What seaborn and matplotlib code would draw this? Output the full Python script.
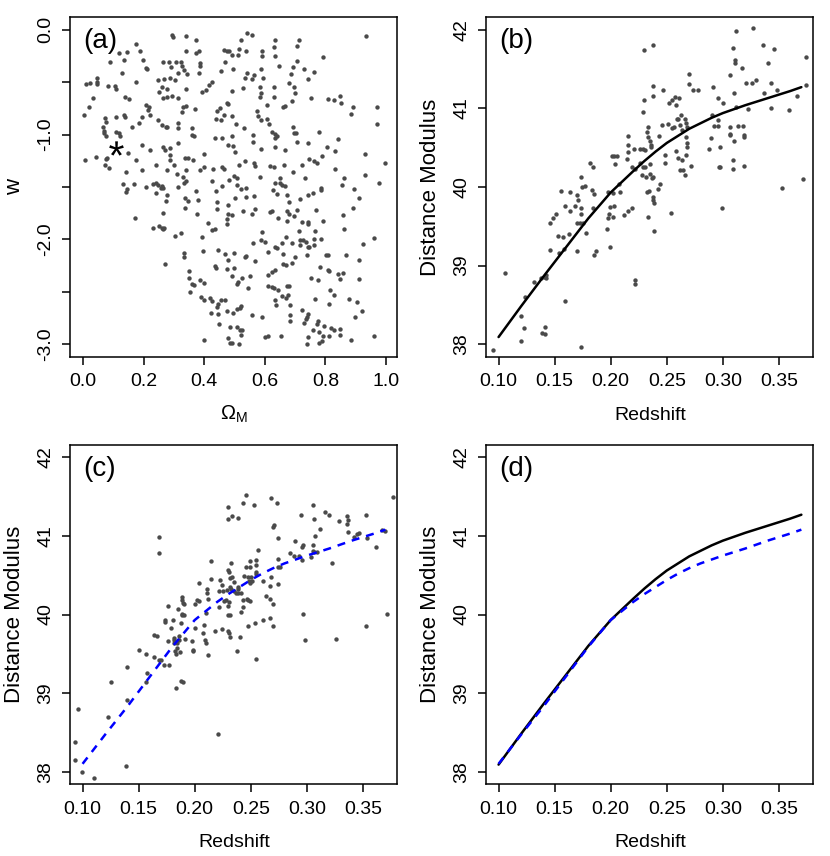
import matplotlib
matplotlib.use("Agg")
import matplotlib.pyplot as plt
import seaborn as sns

sns.set_style("ticks")
plt.rcParams["font.family"] = ["Liberation Sans", "DejaVu Sans"]
plt.rcParams["axes.unicode_minus"] = False
plt.rcParams["mathtext.fontset"] = "custom"
plt.rcParams["mathtext.rm"] = "Liberation Sans"
plt.rcParams["mathtext.it"] = "Liberation Sans:italic"
plt.rcParams["mathtext.bf"] = "Liberation Sans:bold"
for key in ["text.color", "axes.labelcolor", "xtick.color", "ytick.color",
            "xtick.labelcolor", "ytick.labelcolor", "axes.edgecolor"]:
    plt.rcParams[key] = "black"

# ---- panel (a): sampled (Omega_M, w) points ----
omega_m = [
    0.292, 0.295, 0.339, 0.372, 0.176, 0.187, 0.119, 0.146, 0.088, 0.135,
    0.196, 0.207, 0.211, 0.264, 0.283, 0.290, 0.306, 0.322, 0.325, 0.334,
    0.314, 0.344, 0.374, 0.383, 0.385, 0.385, 0.381, 0.341, 0.465, 0.474,
    0.455, 0.127, 0.009, 0.022, 0.047, 0.047, 0.047, 0.083, 0.105, 0.108,
    0.138, 0.151, 0.176, 0.248, 0.268, 0.286, 0.303, 0.259, 0.278, 0.252,
    0.262, 0.278, 0.292, 0.314, 0.339, 0.394, 0.405, 0.416, 0.427, 0.032,
    0.019, 0.002, 0.207, 0.218, 0.215, 0.193, 0.185, 0.222, 0.330, 0.339,
    0.326, 0.369, 0.443, 0.452, 0.465, 0.072, 0.108, 0.135, 0.138, 0.075,
    0.160, 0.261, 0.248, 0.275, 0.314, 0.314, 0.438, 0.455, 0.064, 0.069,
    0.069, 0.074, 0.110, 0.119, 0.123, 0.278, 0.361, 0.361, 0.366, 0.435,
    0.460, 0.262, 0.271, 0.286, 0.193, 0.220, 0.312, 0.149, 0.176, 0.006,
    0.042, 0.077, 0.080, 0.072, 0.085, 0.141, 0.193, 0.286, 0.286, 0.300,
    0.278, 0.242, 0.336, 0.345, 0.363, 0.399, 0.385, 0.400, 0.430, 0.460,
    0.465, 0.339, 0.311, 0.328,
    0.540, 0.556, 0.520, 0.633, 0.713, 0.933, 0.481, 0.490, 0.514, 0.512,
    0.537, 0.589, 0.591, 0.631, 0.633, 0.705, 0.468, 0.495, 0.587, 0.540,
    0.534, 0.556, 0.565, 0.595, 0.648, 0.705, 0.694, 0.729, 0.762, 0.793,
    0.686, 0.680, 0.697, 0.741, 0.490, 0.529, 0.584, 0.587, 0.584, 0.631,
    0.631, 0.608, 0.659, 0.666, 0.701, 0.690, 0.752, 0.807, 0.829, 0.848,
    0.850, 0.892, 0.884, 0.969, 0.970, 0.474, 0.479, 0.493, 0.504, 0.531,
    0.573, 0.576, 0.587, 0.606, 0.615, 0.692, 0.697, 0.703, 0.635, 0.639,
    0.633, 0.624, 0.560, 0.562, 0.490, 0.477, 0.496, 0.501, 0.587, 0.633,
    0.666, 0.705, 0.741, 0.780, 0.843, 0.804, 0.831, 0.788, 0.931, 0.997,
    0.514, 0.534, 0.565, 0.568, 0.617, 0.631, 0.664, 0.692, 0.723, 0.747,
    0.763, 0.771, 0.831, 0.862, 0.931, 0.481, 0.499, 0.507, 0.585, 0.650,
    0.732,
    0.130, 0.141, 0.146, 0.167, 0.207, 0.229, 0.240, 0.246, 0.256, 0.259,
    0.262, 0.240, 0.278, 0.275, 0.314, 0.333, 0.341, 0.336, 0.345, 0.336,
    0.374, 0.380, 0.377, 0.264, 0.170, 0.229, 0.249, 0.260, 0.264, 0.267,
    0.303, 0.322, 0.333, 0.334, 0.270, 0.350, 0.350, 0.358, 0.367, 0.352,
    0.385, 0.399, 0.391, 0.396, 0.411, 0.427, 0.435, 0.441, 0.443, 0.437,
    0.457, 0.427, 0.446, 0.435, 0.438, 0.390, 0.399, 0.419, 0.424, 0.441,
    0.445, 0.454, 0.421, 0.446, 0.448, 0.399,
    0.509, 0.520, 0.537, 0.503, 0.537, 0.565, 0.477, 0.479, 0.490, 0.474,
    0.474, 0.529, 0.556, 0.569, 0.617, 0.622, 0.628, 0.633, 0.650, 0.655,
    0.666, 0.641, 0.672, 0.680, 0.716, 0.743, 0.760, 0.785, 0.787, 0.854,
    0.895, 0.912, 0.890, 0.857, 0.860, 0.977, 0.642, 0.672, 0.681, 0.672,
    0.697, 0.705, 0.724, 0.741, 0.743, 0.768, 0.793, 0.589, 0.587, 0.602,
    0.562, 0.612, 0.635, 0.641, 0.657, 0.669, 0.688, 0.661, 0.713, 0.716,
    0.725, 0.735, 0.716, 0.741, 0.745, 0.763, 0.763, 0.765, 0.785, 0.738,
    0.801, 0.807, 0.700, 0.688, 0.661, 0.670, 0.635, 0.622, 0.609, 0.868,
    0.912, 0.960, 0.925, 0.468, 0.477, 0.498, 0.534, 0.537, 0.569, 0.474,
    0.499, 0.490, 0.523, 0.551, 0.512, 0.507, 0.545, 0.609, 0.622, 0.631,
    0.672, 0.681, 0.645, 0.655, 0.670, 0.675, 0.633, 0.637, 0.683, 0.752,
    0.777, 0.782, 0.807, 0.812, 0.840, 0.848, 0.859, 0.912, 0.815, 0.829,
    0.812, 0.765, 0.879, 0.903, 0.922, 0.898, 0.468, 0.474, 0.496, 0.507,
    0.518, 0.521, 0.556, 0.589, 0.683, 0.683, 0.724, 0.741, 0.730, 0.735,
    0.738, 0.760, 0.771, 0.774, 0.780, 0.796, 0.818, 0.829, 0.848, 0.848,
    0.813, 0.793, 0.788, 0.780, 0.738, 0.743, 0.652, 0.609, 0.600, 0.884,
    0.961, 0.485, 0.509, 0.518, 0.526, 0.521, 0.477, 0.485, 0.493, 0.514,
]
w_vals = [
    -0.048, -0.070, -0.064, -0.096, -0.137, -0.198, -0.217, -0.214, -0.303, -0.287,
    -0.293, -0.366, -0.376, -0.312, -0.312, -0.351, -0.303, -0.309, -0.344, -0.382,
    -0.414, -0.421, -0.223, -0.198, -0.319, -0.344, -0.408, -0.207, -0.191, -0.207,
    -0.389, -0.408, -0.519, -0.510, -0.462, -0.494, -0.516, -0.535, -0.535, -0.567,
    -0.644, -0.663, -0.500, -0.478, -0.472, -0.462, -0.478, -0.542, -0.567, -0.596,
    -0.653, -0.637, -0.631, -0.653, -0.561, -0.590, -0.574, -0.526, -0.503, -0.653,
    -0.739, -0.813, -0.717, -0.733, -0.765, -0.829, -0.886, -0.813, -0.733, -0.727,
    -0.781, -0.758, -0.771, -0.749, -0.813, -0.844, -0.835, -0.813, -0.835, -0.876,
    -0.924, -0.908, -0.860, -0.924, -0.892, -0.940, -0.854, -0.860, -0.931, -0.962,
    -0.988, -1.010, -0.972, -0.988, -1.013, -0.931, -0.940, -1.004, -1.013, -1.036,
    -1.029, -1.115, -1.147, -1.125, -1.099, -1.147, -1.083, -1.179, -1.243, -1.243,
    -1.211, -1.236, -1.220, -1.291, -1.322, -1.354, -1.338, -1.195, -1.243, -1.291,
    -1.338, -1.291, -1.227, -1.221, -1.243, -1.185, -1.338, -1.307, -1.332, -1.307,
    -1.332, -1.338, -1.377, -1.402,
    -0.032, -0.048, -0.102, -0.102, -0.096, -0.057, -0.207, -0.245, -0.185, -0.245,
    -0.198, -0.207, -0.255, -0.169, -0.255, -0.159, -0.303, -0.376, -0.376, -0.414,
    -0.462, -0.472, -0.430, -0.462, -0.341, -0.296, -0.351, -0.376, -0.405, -0.261,
    -0.421, -0.504, -0.542, -0.468, -0.580, -0.551, -0.548, -0.599, -0.644, -0.542,
    -0.644, -0.717, -0.733, -0.723, -0.605, -0.676, -0.647, -0.663, -0.669, -0.631,
    -0.695, -0.739, -0.803, -0.733, -0.899, -0.695, -0.707, -0.822, -0.899, -0.940,
    -0.771, -0.822, -0.860, -0.854, -0.899, -0.924, -0.982, -0.982, -0.997, -1.010,
    -1.036, -0.978, -1.004, -1.074, -1.013, -1.099, -1.109, -1.163, -1.141, -1.115,
    -1.147, -1.071, -1.083, -0.972, -1.045, -1.122, -1.157, -1.201, -1.185, -1.268,
    -1.291, -1.249, -1.268, -1.300, -1.300, -1.313, -1.291, -1.354, -1.291, -1.233,
    -1.249, -1.275, -1.329, -1.418, -1.386, -1.434, -1.393, -1.418, -1.402, -1.418,
    -1.418,
    -1.475, -1.546, -1.523, -1.472, -1.504, -1.472, -1.460, -1.482, -1.514, -1.488,
    -1.514, -1.562, -1.574, -1.632, -1.498, -1.460, -1.444, -1.609, -1.632, -1.702,
    -1.539, -1.625, -1.762, -1.753, -1.801, -1.896, -1.871, -1.896, -1.906, -1.890,
    -1.970, -1.944, -2.129, -2.173, -2.237, -2.304, -2.365, -2.422, -2.438, -2.502,
    -2.390, -2.416, -1.976, -2.113, -1.848, -1.912, -1.906, -1.648, -1.711, -1.539,
    -1.491, -1.440, -2.103, -2.256, -2.269, -2.549, -2.575, -2.556, -2.588, -2.648,
    -2.620, -2.581, -2.699, -2.715, -2.811, -2.957,
    -1.482, -1.523, -1.514, -1.603, -1.593, -1.587, -1.673, -1.762, -1.769, -1.810,
    -1.858, -1.727, -1.762, -1.715, -1.737, -1.731, -1.530, -1.460, -1.460, -1.485,
    -1.491, -1.568, -1.577, -1.641, -1.616, -1.577, -1.562, -1.530, -1.514, -1.482,
    -1.523, -1.609, -1.705, -1.769, -1.903, -1.460, -1.801, -1.731, -1.762, -1.826,
    -1.778, -1.721, -1.839, -1.839, -1.858, -1.721, -1.823, -1.934, -2.008, -2.030,
    -2.033, -2.119, -2.075, -2.087, -2.039, -1.976, -2.033, -2.142, -1.918, -2.008,
    -2.008, -2.030, -2.055, -2.071, -2.071, -2.055, -1.992, -1.922, -2.001, -2.145,
    -2.145, -2.145, -2.167, -2.224, -2.231, -2.247, -2.288, -2.310, -2.342, -2.151,
    -2.199, -1.985, -2.049, -2.142, -2.199, -2.135, -2.173, -2.161, -2.209, -2.279,
    -2.272, -2.352, -2.365, -2.352, -2.406, -2.428, -2.463, -2.448, -2.454, -2.463,
    -2.448, -2.448, -2.486, -2.543, -2.556, -2.534, -2.581, -2.623, -2.623, -2.368,
    -2.390, -2.263, -2.288, -2.304, -2.333, -2.381, -2.326, -2.381, -2.479, -2.527,
    -2.613, -2.565, -2.572, -2.600, -2.683, -2.741, -2.581, -2.686, -2.702, -2.661,
    -2.654, -2.638, -2.718, -2.741, -2.718, -2.782, -2.670, -2.709, -2.798, -2.756,
    -2.741, -2.862, -2.811, -2.779, -2.884, -2.824, -2.843, -2.868, -2.859, -2.909,
    -2.922, -2.925, -2.973, -2.989, -2.995, -2.932, -2.925, -2.925, -2.932, -2.964,
    -2.925, -2.836, -2.836, -2.862, -2.862, -2.909, -2.938, -2.986, -2.986, -2.999,
]
best_omega_m = [0.11]
best_w = [-1.13]

# ---- panel (b): observed supernovae ----
z_obs_b = [
    0.0949, 0.1060, 0.1199, 0.1229, 0.1199, 0.1387, 0.1417, 0.1417, 0.1232, 0.1318,
    0.1381, 0.1402, 0.1423, 0.1423, 0.1595, 0.1738, 0.1455, 0.1530, 0.1571, 0.1536,
    0.1580, 0.1631, 0.1634, 0.1560, 0.1595, 0.1640, 0.1685, 0.1699, 0.1705, 0.1735,
    0.1732, 0.1461, 0.1482, 0.1509, 0.1699, 0.1729, 0.1750, 0.1780, 0.1699, 0.1741,
    0.1738, 0.1774, 0.1818, 0.1839, 0.1833, 0.1848, 0.1839, 0.1848, 0.1869, 0.1970,
    0.1982, 0.1973, 0.1991, 0.2018, 0.2027, 0.1991, 0.2012, 0.2027, 0.2057, 0.2042,
    0.1976, 0.2018, 0.2077, 0.2086, 0.2116, 0.2152, 0.2190, 0.2146, 0.2155, 0.2155,
    0.2155, 0.2205, 0.2214, 0.2220, 0.2220, 0.2259, 0.2190,
    0.2301, 0.2378, 0.2295, 0.2289, 0.2324, 0.2330, 0.2289, 0.2310, 0.2330, 0.2348,
    0.2360, 0.2378, 0.2378, 0.2429, 0.2363, 0.2265, 0.2289, 0.2310, 0.2354, 0.2280,
    0.2318, 0.2354, 0.2378, 0.2369, 0.2324, 0.2339, 0.2420, 0.2438, 0.2378, 0.2378,
    0.2384, 0.2330, 0.2390, 0.2467, 0.2518, 0.2548, 0.2458, 0.2509, 0.2548, 0.2488,
    0.2488, 0.2577, 0.2613, 0.2586, 0.2631, 0.2595, 0.2604, 0.2563, 0.2622, 0.2637,
    0.2661, 0.2673, 0.2676, 0.2667, 0.2682, 0.2676, 0.2667, 0.2637, 0.2616, 0.2646,
    0.2658, 0.2601, 0.2583, 0.2539, 0.2717, 0.2696, 0.2702, 0.2735, 0.2777, 0.2875,
    0.2890, 0.2908, 0.2905, 0.2920, 0.2958, 0.2955, 0.2955, 0.2997, 0.2973, 0.2970,
    0.2988, 0.3068, 0.3086, 0.3098, 0.3119, 0.3110, 0.3110, 0.3167, 0.3062, 0.3062,
    0.3062, 0.3098, 0.3137, 0.3179, 0.3188, 0.3188, 0.3119, 0.3226, 0.3202, 0.3256,
    0.3298, 0.3268, 0.3360, 0.3366, 0.3405, 0.3426, 0.3455, 0.3485, 0.3429, 0.3589,
    0.3664, 0.3738, 0.3738, 0.3717, 0.3530, 0.3086, 0.3086, 0.3188, 0.2967,
]
mu_obs_b = [
    37.92, 38.91, 38.36, 38.21, 38.04, 38.14, 38.13, 38.22, 38.60, 38.79,
    38.84, 38.86, 38.88, 38.84, 38.55, 37.96, 39.20, 39.38, 39.36, 39.16,
    39.21, 39.40, 39.93, 39.95, 39.76, 39.69, 39.76, 39.90, 39.83, 39.73,
    39.65, 39.54, 39.61, 39.66, 39.54, 39.54, 39.54, 39.42, 39.19, 40.00,
    40.13, 40.01, 40.31, 40.25, 39.96, 39.91, 39.73, 39.14, 39.18, 39.46,
    39.66, 39.60, 39.75, 39.62, 39.76, 39.23, 40.39, 40.39, 40.39, 40.29,
    39.93, 39.92, 40.04, 39.94, 39.64, 39.69, 39.73, 40.35, 40.45, 40.54,
    40.65, 40.48, 40.23, 38.82, 38.76, 40.48, 40.26,
    41.74, 41.81, 41.11, 40.96, 40.70, 40.76, 40.48, 40.47, 40.63, 40.59,
    40.54, 41.29, 41.16, 40.65, 40.51, 40.30, 40.26, 40.25, 40.29, 40.15,
    40.13, 40.17, 40.13, 40.11, 39.94, 39.95, 39.98, 40.04, 39.87, 39.84,
    39.80, 39.62, 39.44, 41.23, 41.07, 41.11, 40.79, 40.80, 40.75, 40.41,
    40.31, 41.15, 41.13, 41.04, 40.92, 40.86, 40.86, 40.76, 40.79, 40.72,
    40.87, 40.82, 40.76, 40.64, 40.56, 40.51, 40.41, 40.34, 40.22, 40.22,
    40.15, 40.37, 40.46, 39.67, 40.27, 41.44, 41.31, 41.24, 41.24, 40.48,
    40.62, 41.27, 40.92, 40.78, 40.77, 40.85, 41.13, 41.07, 40.51, 40.25,
    39.73, 41.43, 41.77, 41.20, 41.98, 41.61, 41.58, 41.52, 40.76, 40.68,
    40.66, 40.59, 40.78, 40.78, 40.66, 40.64, 41.02, 40.99, 41.32, 41.32,
    41.36, 42.02, 41.81, 41.20, 41.58, 41.32, 41.75, 41.24, 41.01, 40.98,
    41.16, 41.65, 41.30, 40.10, 39.99, 40.34, 40.23, 40.27, 40.26,
]

# ---- panel (c): simulated supernovae ----
z_obs_c = [
    0.0935, 0.0935, 0.0955, 0.0994, 0.1104, 0.1387, 0.1229, 0.1253, 0.1396, 0.1396,
    0.1506, 0.1565, 0.1571, 0.1565, 0.1634, 0.1634, 0.1664, 0.1685, 0.1685, 0.1685,
    0.1699, 0.1723, 0.1774, 0.1765, 0.1735, 0.1738, 0.1765, 0.1789, 0.1807, 0.1813,
    0.1813, 0.1818, 0.1827, 0.1833, 0.1839, 0.1842, 0.1848, 0.1857, 0.1863, 0.1869,
    0.1881, 0.1884, 0.1884, 0.1884, 0.1884, 0.1893, 0.1902, 0.1908, 0.1917, 0.1878,
    0.1893, 0.1833, 0.1976, 0.1982, 0.1988, 0.2003, 0.2006, 0.2021, 0.2042, 0.2042,
    0.2077, 0.2086, 0.2095, 0.2101, 0.2116, 0.2101, 0.2110, 0.2110, 0.2122, 0.2146,
    0.2146, 0.2185, 0.2214, 0.2214, 0.2205, 0.2229, 0.2241, 0.2241, 0.2250,
    0.2295, 0.2295, 0.2330, 0.2384, 0.2429, 0.2458, 0.2527, 0.2676, 0.2735, 0.2705,
    0.2696, 0.2747, 0.2949, 0.3054, 0.3062, 0.3116, 0.3164, 0.3196, 0.3286, 0.3357,
    0.3366, 0.3357, 0.3366, 0.3420, 0.3449, 0.3464, 0.3530, 0.3539, 0.3670, 0.3693,
    0.3768, 0.3619, 0.2896, 0.2964, 0.2958, 0.3054, 0.3054, 0.3074, 0.3092, 0.3062,
    0.3033, 0.2958, 0.2926, 0.2884, 0.2854, 0.2747, 0.2741, 0.2756, 0.2562, 0.2542,
    0.2548, 0.2542, 0.2548, 0.2497, 0.2497, 0.2458, 0.2443, 0.2479, 0.2503, 0.2497,
    0.2488, 0.2509, 0.2607, 0.2682, 0.2673, 0.2741, 0.2637, 0.2667, 0.2696, 0.3226,
    0.2295, 0.2324, 0.2310, 0.2330, 0.2348, 0.2318, 0.2318, 0.2324, 0.2289, 0.2348,
    0.2384, 0.2390, 0.2369, 0.2384, 0.2414, 0.2280, 0.2310, 0.2429, 0.2467, 0.2479,
    0.2497, 0.2295, 0.2429, 0.2414, 0.2295, 0.2315, 0.2301, 0.2310, 0.2318, 0.2408,
    0.2473, 0.2539, 0.2607, 0.2667, 0.2696, 0.2375, 0.2548, 0.2964, 0.2985, 0.3256,
    0.3527, 0.3714, 0.2265,
]
mu_obs_c = [
    38.38, 38.15, 38.80, 37.99, 37.92, 38.07, 38.70, 39.14, 39.33, 38.91,
    39.55, 39.50, 39.25, 39.14, 39.46, 39.74, 39.73, 40.99, 40.78, 39.42,
    39.42, 39.36, 39.36, 40.11, 39.93, 39.91, 39.66, 39.83, 39.93, 39.70,
    39.68, 39.64, 39.53, 39.50, 39.57, 39.64, 40.07, 39.73, 39.67, 39.52,
    39.89, 39.99, 40.01, 40.19, 40.22, 40.15, 39.99, 40.13, 39.69, 39.15,
    39.14, 39.06, 39.66, 39.55, 39.53, 39.83, 40.13, 40.19, 40.40, 40.17,
    39.77, 39.87, 39.68, 39.64, 39.48, 40.02, 40.33, 40.28, 40.20, 40.68,
    40.45, 39.79, 40.30, 40.10, 38.48, 40.44, 40.38, 39.82, 40.30,
    41.37, 41.21, 41.25, 41.23, 41.42, 41.52, 41.39, 41.48, 41.42, 41.14,
    41.12, 40.98, 41.27, 41.39, 41.22, 41.09, 41.30, 41.27, 41.19, 41.25,
    41.20, 41.15, 41.05, 40.99, 41.02, 41.04, 41.27, 40.97, 41.08, 41.06,
    41.49, 40.86, 40.94, 40.89, 40.86, 40.89, 40.81, 41.00, 40.80, 40.79,
    40.73, 40.70, 40.74, 40.75, 40.78, 40.71, 40.60, 40.60, 40.82, 40.70,
    40.63, 40.54, 40.52, 40.68, 40.60, 40.60, 40.49, 40.48, 40.48, 40.40,
    40.43, 40.43, 40.43, 40.48, 40.36, 40.39, 40.24, 40.20, 40.13, 40.65,
    40.57, 40.65, 40.54, 40.48, 40.41, 40.47, 40.35, 40.33, 40.31, 40.30,
    40.35, 40.33, 40.28, 40.27, 40.27, 40.18, 40.16, 40.19, 40.20, 40.18,
    40.17, 40.11, 40.09, 40.03, 40.00, 39.99, 39.79, 39.77, 39.72, 39.72,
    39.85, 39.89, 39.93, 39.96, 39.85, 39.54, 39.44, 40.01, 39.67, 39.69,
    39.86, 40.01, 40.17,
]

# ---- fitted curves ----
z_fit = [0.10, 0.12, 0.14, 0.16, 0.18, 0.20, 0.22, 0.23, 0.24, 0.25, 0.26, 0.27,
         0.28, 0.29, 0.30, 0.32, 0.34, 0.36, 0.37]
mu_fit_obs = [38.09, 38.48, 38.86, 39.23, 39.60, 39.93, 40.20, 40.33, 40.45, 40.56,
              40.65, 40.74, 40.81, 40.88, 40.94, 41.04, 41.13, 41.22, 41.27]
mu_fit_sim = [38.10, 38.47, 38.83, 39.21, 39.59, 39.93, 40.16, 40.26, 40.35, 40.44,
              40.52, 40.59, 40.65, 40.70, 40.75, 40.84, 40.94, 41.03, 41.08]

pt_color = "#4a4a4a"
z_ticks = [0.10, 0.15, 0.20, 0.25, 0.30, 0.35]
mu_ticks = [38, 39, 40, 41, 42]

fig = plt.figure(figsize=(8.3, 8.56), dpi=100)
ax_w, ax_h = 0.394, 0.3966
ax_a = fig.add_axes([0.0849, 0.5833, ax_w, ax_h])
ax_b = fig.add_axes([0.5861, 0.5833, ax_w, ax_h])
ax_c = fig.add_axes([0.0849, 0.0838, ax_w, ax_h])
ax_d = fig.add_axes([0.5861, 0.0838, ax_w, ax_h])


def style(ax, tag):
    for sp in ax.spines.values():
        sp.set_visible(True)
        sp.set_linewidth(1.1)
        sp.set_color("black")
    ax.tick_params(direction="out", length=5.8, width=1.1, pad=6,
                   labelsize=14, colors="black", labelcolor="black")
    plt.setp(ax.get_yticklabels(), rotation=90, va="center", ha="right")
    ax.text(0.04, 0.968, tag, transform=ax.transAxes, fontsize=20,
            va="top", ha="left", color="black")


# (a)
sns.scatterplot(x=omega_m, y=w_vals, ax=ax_a, color=pt_color, s=10, linewidth=0)
sns.scatterplot(x=best_omega_m, y=best_w, ax=ax_a, color="black", marker="$*$",
                s=110, linewidth=0)
ax_a.set_xlim(-0.042, 1.038)
ax_a.set_ylim(-3.12, 0.12)
ax_a.set_xticks([0.0, 0.2, 0.4, 0.6, 0.8, 1.0])
ax_a.set_xticklabels(["0.0", "0.2", "0.4", "0.6", "0.8", "1.0"])
ax_a.set_yticks([-3.0, -2.5, -2.0, -1.5, -1.0, -0.5, 0.0])
ax_a.set_yticklabels(["-3.0", "", "-2.0", "", "-1.0", "", "0.0"])
ax_a.set_xlabel(r"$\Omega_{\mathrm{M}}$", fontsize=14.5, labelpad=10)
ax_a.set_ylabel("w", fontsize=16, labelpad=9)
style(ax_a, "(a)")

# (b), (c), (d)
sns.scatterplot(x=z_obs_b, y=mu_obs_b, ax=ax_b, color=pt_color, s=10, linewidth=0)
sns.lineplot(x=z_fit, y=mu_fit_obs, ax=ax_b, color="black", linewidth=1.8,
             errorbar=None, sort=False)

sns.scatterplot(x=z_obs_c, y=mu_obs_c, ax=ax_c, color=pt_color, s=10, linewidth=0)
sns.lineplot(x=z_fit, y=mu_fit_sim, ax=ax_c, color="blue", linewidth=1.8,
             errorbar=None, sort=False, linestyle=(0, (3.2, 2.8)))

sns.lineplot(x=z_fit, y=mu_fit_obs, ax=ax_d, color="black", linewidth=1.8,
             errorbar=None, sort=False)
sns.lineplot(x=z_fit, y=mu_fit_sim, ax=ax_d, color="blue", linewidth=1.8,
             errorbar=None, sort=False, linestyle=(0, (3.2, 2.8)))

for ax, tag in [(ax_b, "(b)"), (ax_c, "(c)"), (ax_d, "(d)")]:
    ax.set_xlim(0.0892, 0.3808)
    ax.set_ylim(37.84, 42.16)
    ax.set_xticks(z_ticks)
    ax.set_xticklabels([f"{t:.2f}" for t in z_ticks])
    ax.set_yticks(mu_ticks)
    ax.set_yticklabels([str(t) for t in mu_ticks])
    ax.set_xlabel("Redshift", fontsize=14, labelpad=12)
    ax.set_ylabel("Distance Modulus", fontsize=16, labelpad=9)
    style(ax, tag)

fig.savefig("out.png", dpi=100)
